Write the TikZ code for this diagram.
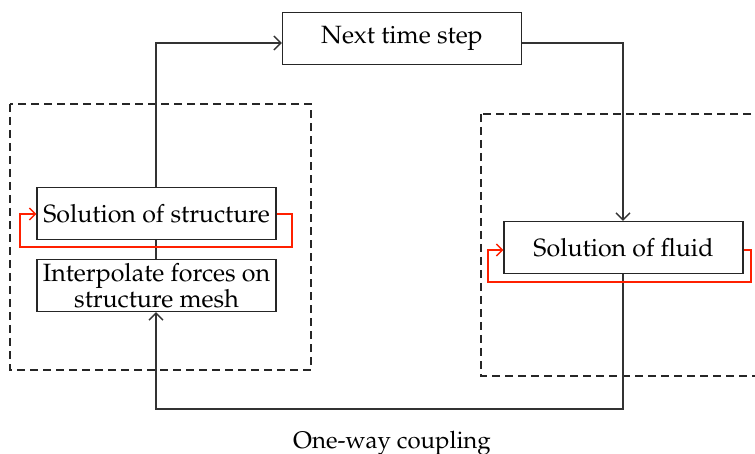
\documentclass[tikz,border=0pt]{standalone}
\usepackage[T1]{fontenc}
\usepackage{mathpazo}
\usetikzlibrary{arrows.meta}
\begin{document}
\begin{tikzpicture}[x=1pt,y=-1pt,
  box/.style={draw=black!85,line width=1.4pt,minimum width=239pt,minimum height=52pt,inner sep=0pt,font=\fontsize{25}{26}\selectfont,text=black},
  conn/.style={draw=black!80,line width=1.3pt,-{Straight Barb[length=7pt,width=14pt,line width=1.3pt]}},
  plain/.style={draw=black!80,line width=1.3pt},
  loop/.style={draw=red!75!orange,line width=1.3pt,-{Straight Barb[length=6pt,width=12pt,line width=1.3pt]}},
  dbox/.style={draw=black!85,line width=1.3pt,dash pattern=on 8pt off 5pt}]
\useasboundingbox (0,0) rectangle (755,454);
\clip (0,0) rectangle (755,454);
% dashed groups
\draw[dbox] (10,104) rectangle (311,370);
\draw[dbox] (481,114) rectangle (770,376);
% boxes
\node[box] (next) at (402,38.5) {Next time step};
\node[box] (struct) at (156.5,213.5) {Solution of structure};
\node[box,align=center,font=\fontsize{25}{26}\selectfont] (interp) at (156.5,285.5) {Interpolate forces on\\structure mesh};
\node[box] (fluid) at (623.5,247.5) {Solution of fluid};
% coordinates
\coordinate (tl) at (156,43);
\coordinate (tr) at (623,43);
\coordinate (bl) at (156,409);
\coordinate (br) at (623,409);
% connectors
\draw[conn] (struct.north -| tl) -- (tl) -- (next.west |- tl);
\draw[conn] (next.east |- tr) -- (tr) -- (fluid.north -| tr);
\draw[plain] (struct.south -| tl) -- (interp.north -| tl);
\draw[conn] (fluid.south -| br) -- (br) -- (bl) -- (interp.south -| bl);
% red loops
\coordinate (sr1) at (292,214);
\coordinate (sr2) at (292,247);
\coordinate (sl2) at (20,247);
\coordinate (sl1) at (20,214);
\draw[loop] (struct.east |- sr1) -- (sr1) -- (sr2) -- (sl2) -- (sl1) -- (struct.west |- sl1);
\coordinate (fr1) at (751,250);
\coordinate (fr2) at (751,282);
\coordinate (fl2) at (488,282);
\coordinate (fl1) at (488,250);
\draw[loop] (fluid.east |- fr1) -- (fr1) -- (fr2) -- (fl2) -- (fl1) -- (fluid.west |- fl1);
% caption
\node[font=\fontsize{24}{26}\selectfont,text=black] (cap) at (392,443) {One-way coupling};
\end{tikzpicture}
\end{document}
